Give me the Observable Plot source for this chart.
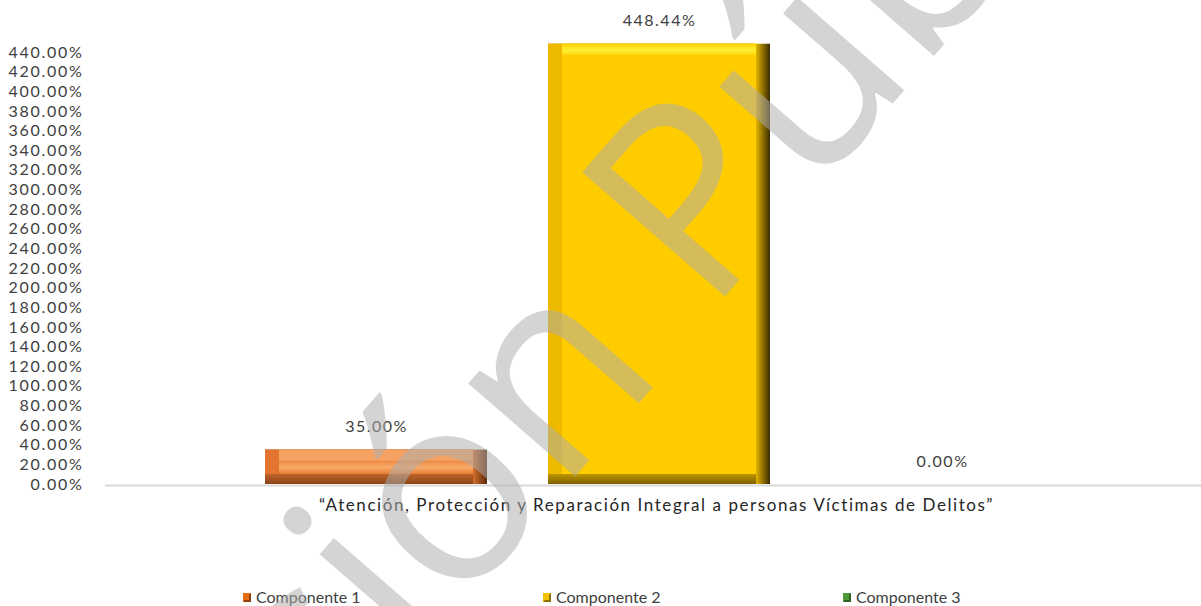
<!DOCTYPE html>
<html>
<head>
<meta charset="utf-8">
<script src="https://cdn.jsdelivr.net/npm/d3@7"></script>
<script src="https://cdn.jsdelivr.net/npm/@observablehq/plot@0.6"></script>
<style>
html, body { margin: 0; padding: 0; background: #fff; }
body { width: 1201px; height: 606px; overflow: hidden; position: relative; font-family: Lato, sans-serif; }
#chart { position: absolute; left: 0; top: 0; }
#chart g[aria-label="y-axis tick label"] text, #chart .ytick text { letter-spacing: 1.7px; }
#chart .vlab text { letter-spacing: 1.5px; }
#chart .glab text { letter-spacing: 1.57px; }
#legend { position: absolute; left: 0; top: 587px; width: 1201px; height: 20px; font-size: 16px; color: #404040; }
.item { position: absolute; top: 0; display: flex; align-items: center; line-height: 20px; white-space: nowrap; letter-spacing: 0px; }
.sw { width: 8px; height: 9px; margin-right: 5px; box-sizing: border-box; }
#wm { position: absolute; left: 0; top: 0; pointer-events: none; }
</style>
</head>
<body>
<div id="chart"></div>
<div id="legend"></div>
<script>
// ---- data ----
const components = ["Componente 1", "Componente 2", "Componente 3"];
const values = [35.00, 448.44, 0.00];
const groupLabel = "“Atención, Protección y Reparación Integral a personas Víctimas de Delitos”";
const yTicks = [0, 20, 40, 60, 80, 100, 120, 140, 160, 180, 200, 220, 240, 260, 280, 300, 320, 340, 360, 380, 400, 420, 440];
const watermarkWords = ["Versión", "Pública"];

// ---- styles ----
const barStyle = {
  "Componente 1": { right: "url(#r1)", bottom: "url(#b1)", left: "#E2742F", top: "#F5A263", center: "url(#c1)", swatch: "#E46C0A", swatchDark: "#8A4015" },
  "Componente 2": { right: "url(#r2)", bottom: "url(#b2)", left: "#EDBA00", top: "url(#t2)", center: "#FFCC00", swatch: "#F2C200", swatchDark: "#8A6E00" },
  "Componente 3": { right: "#2F6B1F", bottom: "#3F7F2A", left: "#4E9A3A", top: "#7CC060", center: "#5AA544", swatch: "#4E9A3A", swatchDark: "#2F5F22" }
};

const data = components.map((c, i) => ({ comp: c, value: values[i] }));
const shown = data.filter(d => d.value > 0);
const bx = 14, byTop = 11, byBot = 10;

const common = { x: "comp", y: "value" };
const plot = Plot.plot({
  width: 1201,
  height: 580,
  marginTop: 52,
  marginBottom: 96,
  marginLeft: 105,
  marginRight: 0,
  style: { fontFamily: 'Lato, sans-serif', fontSize: "16px", color: "#404040", background: "transparent" },
  x: { domain: components, range: [105, 1213], paddingInner: 0.2155, paddingOuter: 0.565, axis: null },
  y: { domain: [0, 440] },
  color: { type: "identity" },
  marks: [
    Plot.ruleY([0], { stroke: "#d9d9d9", strokeWidth: 2, dy: 1 }),
    Plot.axisY({ ticks: yTicks, tickSize: 0, tickPadding: 22, label: null, tickFormat: d => d.toFixed(2) + "%", fontSize: 16, fill: "#404040", className: "ytick" }),
    Plot.barY(shown, { ...common, fill: d => barStyle[d.comp].right }),
    Plot.barY(shown, { ...common, fill: d => barStyle[d.comp].bottom, insetRight: bx }),
    Plot.barY(shown, { ...common, fill: d => barStyle[d.comp].left, insetRight: bx, insetBottom: byBot }),
    Plot.barY(shown, { ...common, fill: d => barStyle[d.comp].top, insetRight: bx, insetBottom: byBot, insetLeft: bx }),
    Plot.barY(shown, { ...common, fill: d => barStyle[d.comp].center, insetRight: bx, insetBottom: byBot, insetLeft: bx, insetTop: byTop }),
    Plot.text(data, { ...common, text: d => d.value.toFixed(2) + "%", dy: -23, fontSize: 16, fill: "#404040", className: "vlab" }),
    Plot.text([groupLabel], { frameAnchor: "bottom", dy: 26, dx: 3, fontSize: 17, fill: "#262626", className: "glab" })
  ]
});

const ns = "http://www.w3.org/2000/svg";
const defs = document.createElementNS(ns, "defs");
defs.innerHTML = `
  <linearGradient id="r1" x1="0" x2="1" y1="0" y2="0">
    <stop offset="0.935" stop-color="#D8702C"/><stop offset="1" stop-color="#5A2A0C"/>
  </linearGradient>
  <linearGradient id="b1" x1="0" x2="0" y1="0" y2="1">
    <stop offset="0.7" stop-color="#C0642A"/><stop offset="1" stop-color="#8A4518"/>
  </linearGradient>
  <linearGradient id="c1" x1="0" x2="0" y1="0" y2="1">
    <stop offset="0" stop-color="#EE8843"/><stop offset="0.5" stop-color="#F8AC69"/><stop offset="1" stop-color="#E77C35"/>
  </linearGradient>
  <linearGradient id="r2" x1="0" x2="1" y1="0" y2="0">
    <stop offset="0.935" stop-color="#E8B800"/><stop offset="1" stop-color="#3A2C00"/>
  </linearGradient>
  <linearGradient id="b2" x1="0" x2="0" y1="0.97" y2="1">
    <stop offset="0" stop-color="#D2A600"/><stop offset="1" stop-color="#7E6200"/>
  </linearGradient>
  <linearGradient id="t2" x1="0" x2="0" y1="0" y2="0.03">
    <stop offset="0" stop-color="#FFD400"/><stop offset="0.5" stop-color="#FFEE33"/><stop offset="1" stop-color="#FFD200"/>
  </linearGradient>`;
plot.insertBefore(defs, plot.firstChild);
document.getElementById("chart").appendChild(plot);

// legend
const legend = document.getElementById("legend");
const legendX = [243, 543, 843];
components.forEach((c, i) => {
  const item = document.createElement("div");
  item.className = "item";
  item.style.left = legendX[i] + "px";
  const sw = document.createElement("div");
  sw.className = "sw";
  sw.style.background = barStyle[c].swatch;
  sw.style.border = "2px solid " + barStyle[c].swatchDark;
  sw.style.borderTopColor = barStyle[c].swatch;
  sw.style.borderLeftColor = barStyle[c].swatch;
  const t = document.createElement("span");
  t.textContent = c;
  item.appendChild(sw);
  item.appendChild(t);
  legend.appendChild(item);
});

// watermark overlay
const wm = document.createElementNS(ns, "svg");
wm.setAttribute("id", "wm");
wm.setAttribute("width", 1201);
wm.setAttribute("height", 606);
const wmPos = [[667, 371, "end"], [708, 316, "start"]];
watermarkWords.forEach((w, i) => {
  const t = document.createElementNS(ns, "text");
  t.setAttribute("transform", `translate(${wmPos[i][0]},${wmPos[i][1]}) rotate(-49)`);
  t.setAttribute("text-anchor", wmPos[i][2]);
  t.setAttribute("font-family", '"Open Sans", sans-serif');
  t.setAttribute("font-size", 265);
  t.setAttribute("fill", "rgb(173,173,173)");
  t.setAttribute("fill-opacity", 0.52);
  t.textContent = w;
  wm.appendChild(t);
});
document.body.appendChild(wm);
</script>
</body>
</html>
